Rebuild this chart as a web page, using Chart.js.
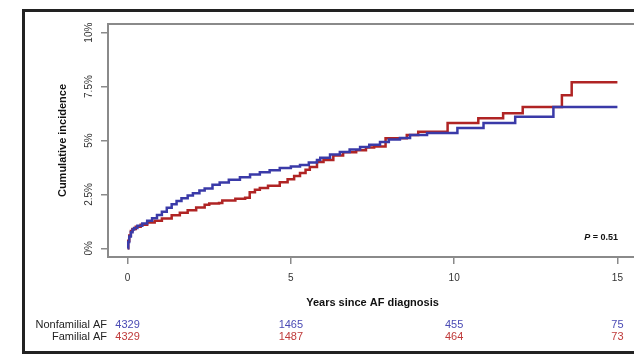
<!DOCTYPE html>
<html>
<head>
<meta charset="utf-8">
<script src="https://cdn.jsdelivr.net/npm/chart.js@4/dist/chart.umd.min.js"></script>
<style>
  body { margin: 0; background: #fff; overflow: hidden; width: 634px; height: 355px; position: relative; }
  #c { position: absolute; left: 0; top: 0; }
  #box { position: absolute; left: 22px; top: 9px; width: 700px; height: 345px; box-sizing: border-box; border: 3px solid #222; pointer-events: none; }
</style>
</head>
<body>
<canvas id="c" width="640" height="355"></canvas>
<div id="box"></div>
<script>
// cumulative incidence (%), step curves
var blueT = [0, 0.02, 0.05, 0.1, 0.15, 0.2, 0.3, 0.45, 0.6, 0.75, 0.9, 1.05, 1.2, 1.35, 1.5, 1.65, 1.84, 2.0, 2.2, 2.36, 2.6, 2.82, 3.1, 3.44, 3.75, 4.05, 4.35, 4.66, 5.0, 5.28, 5.55, 5.8, 5.9, 6.2, 6.5, 6.8, 7.12, 7.4, 7.73, 8.0, 8.34, 8.65, 9.17, 10.1, 10.9, 11.87, 13.04, 15.0];
var blueV = [0, 0.3, 0.55, 0.75, 0.87, 0.95, 1.05, 1.15, 1.28, 1.4, 1.55, 1.7, 1.88, 2.05, 2.2, 2.32, 2.45, 2.55, 2.68, 2.78, 2.95, 3.05, 3.18, 3.3, 3.42, 3.53, 3.62, 3.72, 3.8, 3.86, 3.98, 4.1, 4.2, 4.35, 4.47, 4.58, 4.7, 4.8, 4.93, 5.05, 5.12, 5.26, 5.35, 5.58, 5.81, 6.1, 6.55, 6.55];
var redT = [0, 0.02, 0.05, 0.1, 0.15, 0.25, 0.4, 0.6, 0.83, 1.05, 1.35, 1.6, 1.84, 2.1, 2.36, 2.5, 2.8, 2.9, 3.3, 3.6, 3.74, 3.9, 4.05, 4.3, 4.66, 4.9, 5.1, 5.28, 5.45, 5.58, 5.8, 6.0, 6.3, 6.6, 7.0, 7.3, 7.55, 7.9, 8.55, 8.9, 9.8, 10.74, 11.5, 12.1, 13.3, 13.6, 15.0];
var redV = [0, 0.35, 0.6, 0.8, 0.9, 1.0, 1.1, 1.2, 1.28, 1.38, 1.53, 1.65, 1.77, 1.9, 2.02, 2.08, 2.1, 2.22, 2.3, 2.35, 2.6, 2.72, 2.8, 2.9, 3.07, 3.2, 3.35, 3.49, 3.65, 3.77, 4.0, 4.1, 4.3, 4.45, 4.55, 4.68, 4.72, 5.1, 5.26, 5.4, 5.81, 6.03, 6.26, 6.55, 7.1, 7.7, 7.7];

var xTicks = [0, 5, 10, 15];
var xLabels = ["0", "5", "10", "15"];
var yTicks = [0, 2.5, 5, 7.5, 10];
var yLabels = ["0%", "2.5%", "5%", "7.5%", "10%"];

var groups = ["Nonfamilial AF", "Familial AF"];
var riskTimes = [0, 5, 10, 15];
var riskNonfamilial = [4329, 1465, 455, 75];
var riskFamilial = [4329, 1487, 464, 73];
var pText = "0.51";

var blue = "#3a3aa8";
var red = "#b02424";
var fam = "'Liberation Sans', Arial, sans-serif";

function pts(t, v) {
  var out = [];
  for (let i = 0; i < t.length; i++) out.push({x: t[i], y: v[i]});
  return out;
}

var extras = {
  id: 'extras',
  beforeDatasetsDraw(chart) {
    var ctx = chart.ctx, a = chart.chartArea;
    ctx.save();
    ctx.strokeStyle = "#8a8a8a";
    ctx.lineWidth = 2;
    ctx.strokeRect(a.left, a.top, a.right - a.left, a.bottom - a.top);
    ctx.restore();
  },
  afterDraw(chart) {
    var ctx = chart.ctx, a = chart.chartArea, xs = chart.scales.x, ys = chart.scales.y;
    ctx.save();
    // y tick labels, rotated
    ctx.font = "10px " + fam;
    ctx.fillStyle = "#333";
    ctx.textAlign = "center";
    ctx.textBaseline = "middle";
    for (let i = 0; i < yTicks.length; i++) {
      ctx.save();
      ctx.translate(89, ys.getPixelForValue(yTicks[i]));
      ctx.rotate(-Math.PI / 2);
      ctx.fillText(yLabels[i], 0, 0);
      ctx.restore();
    }
    // axis titles
    ctx.fillStyle = "#111";
    ctx.font = "bold 11px " + fam;
    ctx.save();
    ctx.translate(63, (a.top + a.bottom) / 2);
    ctx.rotate(-Math.PI / 2);
    ctx.fillText("Cumulative incidence", 0, 0);
    ctx.restore();
    ctx.fillText("Years since AF diagnosis", (a.left + a.right) / 2, 303);

    // P value
    ctx.textAlign = "right";
    ctx.font = "bold 9px " + fam;
    var rest = " = " + pText;
    var restW = ctx.measureText(rest).width;
    ctx.fillText(rest, 618, 238);
    ctx.font = "italic bold 9px " + fam;
    ctx.fillText("P", 618 - restW, 238);

    // number at risk
    ctx.font = "11px " + fam;
    ctx.fillStyle = "#222";
    ctx.fillText(groups[0], 107, 325);
    ctx.fillText(groups[1], 107, 337);
    ctx.textAlign = "center";
    for (let i = 0; i < riskTimes.length; i++) {
      var px = xs.getPixelForValue(riskTimes[i]);
      ctx.fillStyle = "#4a4ab4";
      ctx.fillText(String(riskNonfamilial[i]), px, 325);
      ctx.fillStyle = "#bf3a3a";
      ctx.fillText(String(riskFamilial[i]), px, 337);
    }
    ctx.restore();
  }
};

new Chart(document.getElementById("c"), {
  type: "line",
  data: {
    datasets: [
      { label: groups[0], data: pts(blueT, blueV), borderColor: blue, borderWidth: 2.5, pointRadius: 0, stepped: true, fill: false },
      { label: groups[1], data: pts(redT, redV), borderColor: red, borderWidth: 2.5, pointRadius: 0, stepped: true, fill: false }
    ]
  },
  options: {
    responsive: false,
    animation: false,
    events: [],
    layout: { padding: { left: 0, top: 24, right: 3, bottom: 0 } },
    plugins: { legend: { display: false }, tooltip: { enabled: false } },
    scales: {
      x: {
        type: "linear",
        min: -0.6, max: 15.6,
        afterBuildTicks: function(s) { s.ticks = xTicks.map(function(v) { return {value: v}; }); },
        afterFit: function(s) { s.height = 98; },
        grid: { drawOnChartArea: false, drawTicks: true, tickLength: 7, color: "#8a8a8a", lineWidth: 1.5 },
        border: { display: false },
        ticks: {
          padding: 8, color: "#333", font: { family: fam, size: 10 },
          maxRotation: 0,
          callback: function(v) { var i = xTicks.indexOf(v); return i >= 0 ? xLabels[i] : ""; }
        }
      },
      y: {
        type: "linear",
        min: -0.4, max: 10.4,
        afterBuildTicks: function(s) { s.ticks = yTicks.map(function(v) { return {value: v}; }); },
        afterFit: function(s) { s.width = 108; },
        grid: { drawOnChartArea: false, drawTicks: true, tickLength: 7, color: "#8a8a8a", lineWidth: 1.5 },
        border: { display: false },
        ticks: { display: false }
      }
    }
  },
  plugins: [extras]
});
</script>
</body>
</html>
